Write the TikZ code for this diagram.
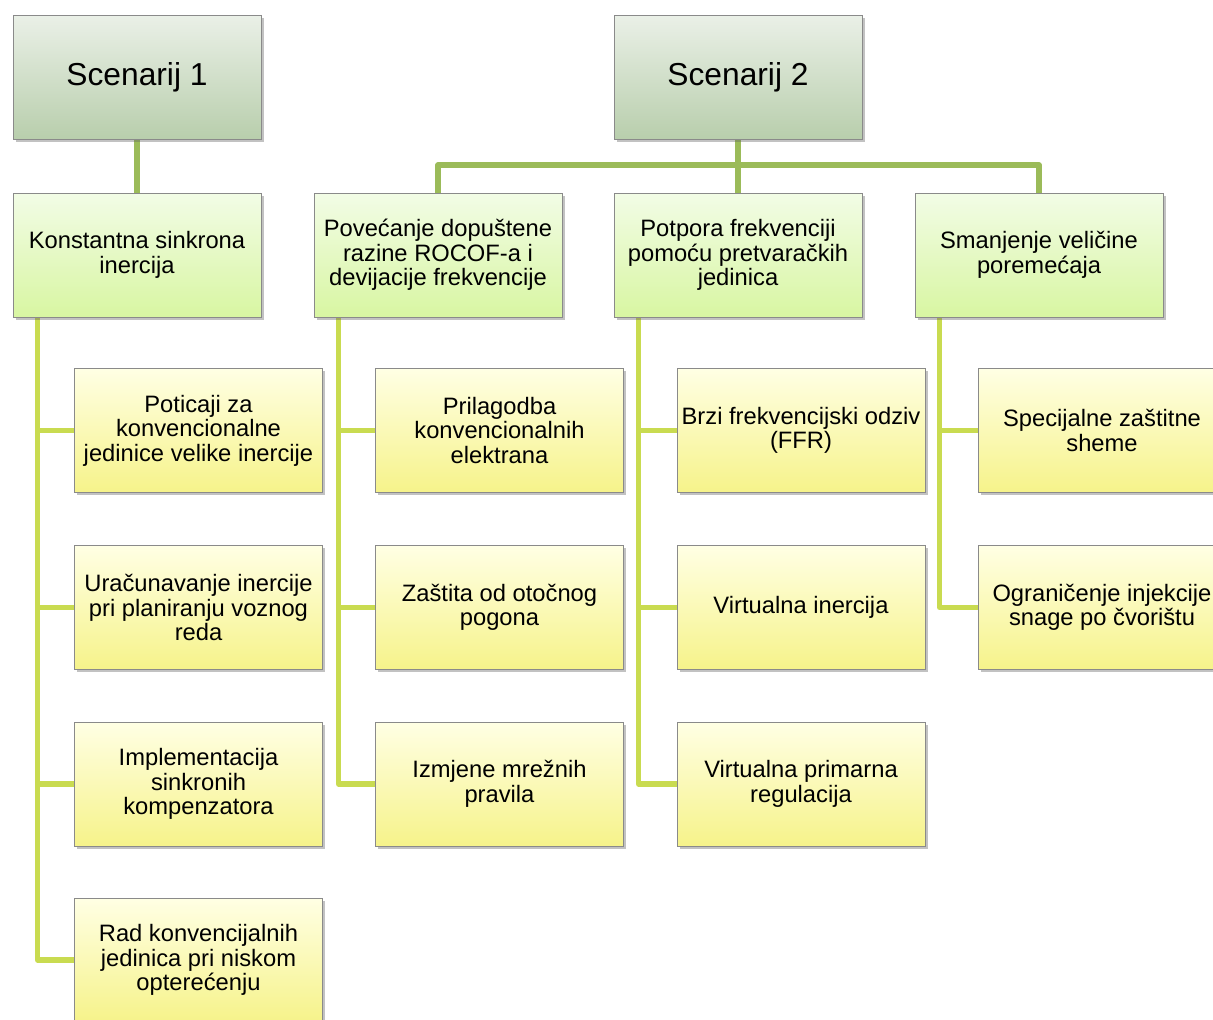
\documentclass[tikz,border=0pt]{standalone}
\usepackage{fontspec}
\setmainfont{Liberation Sans}
\usetikzlibrary{shadows,calc}
\pgfdeclarelayer{bg}
\pgfsetlayers{bg,main}
\definecolor{framegray}{HTML}{8A8A8A}
\definecolor{topline}{HTML}{9BBB59}
\definecolor{lowline}{HTML}{C9DB50}
\definecolor{scentop}{HTML}{EAF0E7}
\definecolor{scenbot}{HTML}{B8CEAC}
\definecolor{midtop}{HTML}{F2FCE6}
\definecolor{midbot}{HTML}{D8F6A2}
\definecolor{leaftop}{HTML}{FFFFE4}
\definecolor{leafbot}{HTML}{F6F38A}
\tikzset{
  boxbase/.style={draw=framegray, line width=0.7pt, minimum width=186pt, minimum height=93pt,
    inner sep=0pt, align=center, shading=axis, shading angle=0,
    drop shadow={opacity=0.4, shadow xshift=2pt, shadow yshift=-2pt, fill=black!60}},
  scenbox/.style={boxbase, top color=scentop, bottom color=scenbot,
    font=\fontsize{23.8}{28}\selectfont},
  midbox/.style={boxbase, top color=midtop, bottom color=midbot,
    font=\fontsize{17.8}{18.4}\selectfont},
  leafbox/.style={boxbase, top color=leaftop, bottom color=leafbot,
    font=\fontsize{17.8}{18.4}\selectfont},
  upwire/.style={draw=topline, line width=3.8pt, line join=round},
  lowwire/.style={draw=lowline, line width=3.8pt, line join=round},
}
\begin{document}
\begin{tikzpicture}[x=0.75pt, y=-0.75pt]
\useasboundingbox (0,0) rectangle (1213,1020);
\clip (0,0) rectangle (1213,1020);

% scenario headers
\node[scenbox] (s1) at (137,77.5) {\raisebox{-2.2pt}{Scenarij 1}};
\node[scenbox] (s2) at (738,77.5) {\raisebox{-2.2pt}{Scenarij 2}};

% second level
\node[midbox] (b1) at (137,255) {Konstantna sinkrona\\inercija};
\node[midbox] (b2) at (438,255) {Povećanje dopuštene\\razine ROCOF-a i\\devijacije frekvencije};
\node[midbox] (b3) at (738,255) {Potpora frekvenciji\\pomoću pretvaračkih\\jedinica};
\node[midbox] (b4) at (1039,255) {Smanjenje veličine\\poremećaja};

% measures under Konstantna sinkrona inercija
\node[leafbox] (c11) at (198.5,430.5) {Poticaji za\\konvencionalne\\jedinice velike inercije};
\node[leafbox] (c12) at (198.5,607.5) {Uračunavanje inercije\\pri planiranju voznog\\reda};
\node[leafbox] (c13) at (198.5,784) {Implementacija\\sinkronih\\kompenzatora};
\node[leafbox] (c14) at (198.5,960) {Rad konvencijalnih\\jedinica pri niskom\\opterećenju};

% measures under Povećanje dopuštene razine
\node[leafbox] (c21) at (499.5,430.5) {Prilagodba\\konvencionalnih\\elektrana};
\node[leafbox] (c22) at (499.5,607.5) {Zaštita od otočnog\\pogona};
\node[leafbox] (c23) at (499.5,784) {Izmjene mrežnih\\pravila};

% measures under Potpora frekvenciji
\node[leafbox] (c31) at (801,430.5) {Brzi frekvencijski odziv\\(FFR)};
\node[leafbox] (c32) at (801,607.5) {Virtualna inercija};
\node[leafbox] (c33) at (801,784) {Virtualna primarna\\regulacija};

% measures under Smanjenje veličine poremećaja
\node[leafbox] (c41) at (1102,430.5) {Specijalne zaštitne\\sheme};
\node[leafbox] (c42) at (1102,607.5) {Ograničenje injekcije\\snage po čvorištu};

\begin{pgfonlayer}{bg}
  % header links
  \draw[upwire] (s1.south) -- (b1.north);
  \coordinate (bus) at (738,165);
  \draw[upwire] (s2.south) -- (b3.north);
  \draw[upwire] (b2.north) |- (bus) -| (b4.north);

  % trunks along the left of each column
  \coordinate (t1) at ($(b1.south west)+(25,0)$);
  \coordinate (t2) at ($(b2.south west)+(25,0)$);
  \coordinate (t3) at ($(b3.south west)+(25,0)$);
  \coordinate (t4) at ($(b4.south west)+(25,0)$);

  \draw[lowwire] (t1) |- (c14.west);
  \draw[lowwire] (t1 |- c11.west) -- (c11.west);
  \draw[lowwire] (t1 |- c12.west) -- (c12.west);
  \draw[lowwire] (t1 |- c13.west) -- (c13.west);

  \draw[lowwire] (t2) |- (c23.west);
  \draw[lowwire] (t2 |- c21.west) -- (c21.west);
  \draw[lowwire] (t2 |- c22.west) -- (c22.west);

  \draw[lowwire] (t3) |- (c33.west);
  \draw[lowwire] (t3 |- c31.west) -- (c31.west);
  \draw[lowwire] (t3 |- c32.west) -- (c32.west);

  \draw[lowwire] (t4) |- (c42.west);
  \draw[lowwire] (t4 |- c41.west) -- (c41.west);
\end{pgfonlayer}
\end{tikzpicture}
\end{document}
